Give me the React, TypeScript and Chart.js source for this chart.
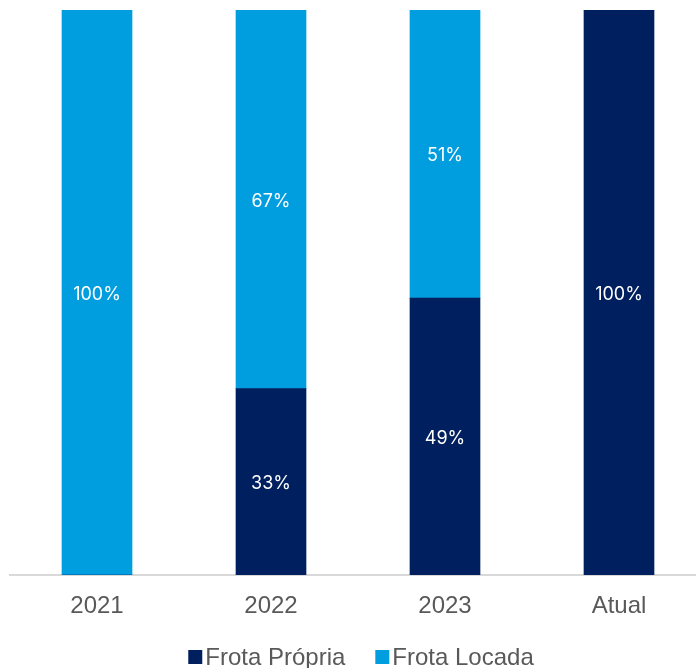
import React, { useEffect, useRef } from "react";
import { Chart, registerables } from "chart.js";

Chart.register(...registerables);

const categories = ["2021", "2022", "2023", "Atual"];
const frotaPropria = [0, 33, 49, 100];
const frotaLocada = [100, 67, 51, 0];
const seriesNames = ["Frota Própria", "Frota Locada"];
const seriesColors = ["#001F5E", "#009DDF"];

const barLabels = {
  id: "barLabels",
  afterDatasetsDraw(chart: any) {
    const ctx = chart.ctx;
    ctx.save();
    ctx.fillStyle = "#FFFFFF";
    ctx.font = "18px Inter, 'Open Sans', sans-serif";
    ctx.textAlign = "center";
    ctx.textBaseline = "middle";
    chart.data.datasets.forEach((ds: any, di: number) => {
      const meta = chart.getDatasetMeta(di);
      meta.data.forEach((el: any, i: number) => {
        const v = ds.data[i];
        if (!v) return;
        const yc = (el.y + el.base) / 2 + 2;
        ctx.fillText(v + "%", el.x, yc);
      });
    });
    ctx.restore();
  },
};

const customLegend = {
  id: "customLegend",
  afterDraw(chart: any) {
    const ctx = chart.ctx;
    ctx.save();
    ctx.font = "24px 'Liberation Sans', Arial, sans-serif";
    ctx.textBaseline = "middle";
    ctx.textAlign = "left";
    const box = 14;
    const gap = 3;
    const itemGap = 30;
    const items = chart.data.datasets.map((d: any) => ({
      label: d.label,
      color: d.backgroundColor,
      w: box + gap + ctx.measureText(d.label).width,
    }));
    const total = items.reduce((s: number, it: any) => s + it.w, 0) + itemGap * (items.length - 1);
    let x = 361 - total / 2;
    const yc = 657;
    items.forEach((it: any) => {
      ctx.fillStyle = it.color;
      ctx.fillRect(x, yc - box / 2, box, box);
      ctx.fillStyle = "#595959";
      ctx.fillText(it.label, x + box + gap, yc + 1);
      x += it.w + itemGap;
    });
    ctx.restore();
  },
};

export default function App() {
  const ref = useRef<HTMLCanvasElement>(null);
  useEffect(() => {
    if (!ref.current) return;
    const chart = new Chart(ref.current, {
      type: "bar",
      data: {
        labels: categories,
        datasets: [
          { label: seriesNames[0], data: frotaPropria, backgroundColor: seriesColors[0], barThickness: 70 },
          { label: seriesNames[1], data: frotaLocada, backgroundColor: seriesColors[1], barThickness: 70 },
        ],
      },
      options: {
        responsive: false,
        animation: false,
        layout: { padding: { left: 10, right: 4, top: 10, bottom: 0 } },
        plugins: { legend: { display: false }, tooltip: { enabled: false } },
        scales: {
          x: {
            stacked: true,
            grid: { display: false },
            border: { display: true, color: "#D9D9D9", width: 2 },
            ticks: {
              color: "#595959",
              font: { size: 24, family: "'Liberation Sans', Arial, sans-serif" },
              padding: 9,
            },
            afterFit(scale: any) {
              scale.height = 93;
            },
          },
          y: {
            stacked: true,
            display: false,
            min: 0,
            max: 100,
          },
        },
      },
      plugins: [barLabels, customLegend],
    });
    return () => chart.destroy();
  }, []);
  return (
    <div style={{ position: "fixed", left: 0, top: 0, width: 696, height: 668, overflow: "hidden", background: "#fff" }}>
      <canvas ref={ref} width={710} height={668} style={{ width: 710, height: 668, display: "block" }} />
    </div>
  );
}
